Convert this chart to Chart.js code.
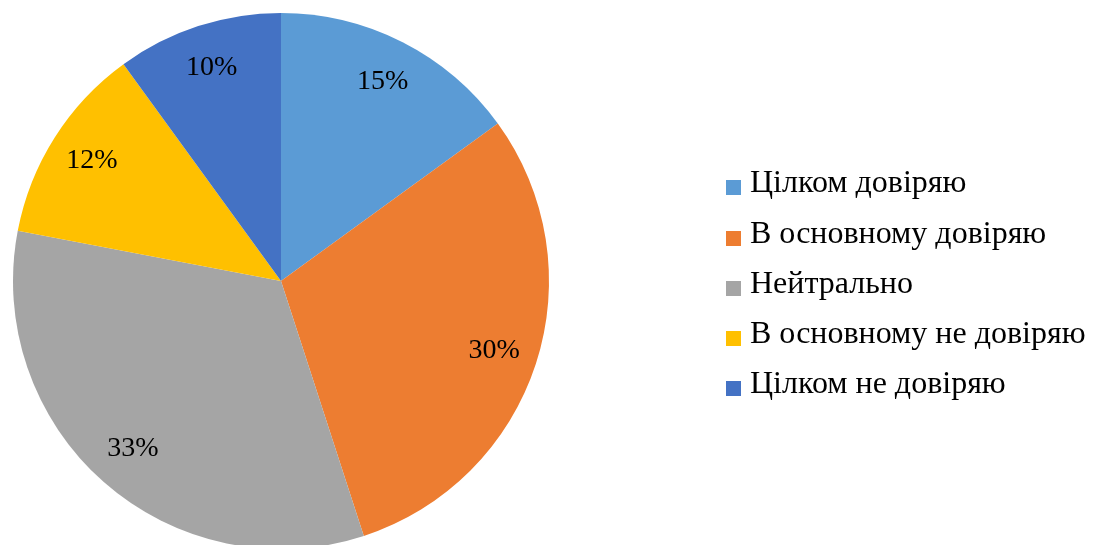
<!DOCTYPE html>
<html>
<head>
<meta charset="utf-8">
<script src="https://cdn.jsdelivr.net/npm/chart.js@4"></script>
<style>
  html, body { margin: 0; padding: 0; background: #fff; overflow: hidden; }
  #wrap { position: relative; width: 1099px; height: 545px; overflow: hidden; }
  #myCanvas { position: absolute; left: 0; top: 0; }
  .row { position: absolute; left: 726px; height: 36px; line-height: 36px; font: 32px "Liberation Serif", "Times New Roman", serif; color: #000; white-space: nowrap; }
  .row span.box { position: absolute; left: 0; top: 17px; width: 15px; height: 15px; }
  .row span.txt { position: absolute; left: 24px; top: 0; }
</style>
</head>
<body>
<div id="wrap">
  <canvas id="myCanvas" width="1099" height="553"></canvas>
  <div id="legend"></div>
</div>
<script>
'use strict';

const labels = ['Цілком довіряю', 'В основному довіряю', 'Нейтрально', 'В основному не довіряю', 'Цілком не довіряю'];
const values = [15, 30, 33, 12, 10];
const colors = ['#5B9BD5', '#ED7D31', '#A5A5A5', '#FFC000', '#4472C4'];

// percent labels inside the slices
const pctLabels = {
  id: 'pctLabels',
  afterDatasetsDraw(chart) {
    const ctx = chart.ctx;
    const total = values.reduce((a, b) => a + b, 0);
    const arcs = chart.getDatasetMeta(0).data;
    ctx.save();
    ctx.font = '28px "Liberation Serif", "Times New Roman", serif';
    ctx.fillStyle = '#000';
    ctx.textAlign = 'center';
    ctx.textBaseline = 'middle';
    for (let i = 0; i < arcs.length; i++) {
      const p = arcs[i].getProps(['x', 'y', 'startAngle', 'endAngle', 'outerRadius'], true);
      const mid = (p.startAngle + p.endAngle) / 2;
      const dist = p.outerRadius * 0.836;
      const x = p.x + Math.cos(mid) * dist;
      const y = p.y + Math.sin(mid) * dist;
      ctx.fillText(Math.round(values[i] / total * 100) + '%', x, y);
    }
    ctx.restore();
  }
};

function renderLegend() {
  const legend = document.getElementById('legend');
  for (let i = 0; i < labels.length; i++) {
    const row = document.createElement('div');
    row.className = 'row';
    row.style.top = (163.2 + i * 50.3) + 'px';
    const box = document.createElement('span');
    box.className = 'box';
    box.style.background = colors[i];
    const txt = document.createElement('span');
    txt.className = 'txt';
    txt.textContent = labels[i];
    row.appendChild(box);
    row.appendChild(txt);
    legend.appendChild(row);
  }
}

const data = {
  labels: labels,
  datasets: [{
    data: values,
    backgroundColor: colors,
    borderWidth: 0
  }]
};

const config = {
  type: 'pie',
  data: data,
  options: {
    responsive: false,
    animation: false,
    layout: {
      padding: { left: 13, top: 13, right: 550, bottom: 4 }
    },
    plugins: {
      legend: { display: false },
      tooltip: { enabled: false }
    }
  },
  plugins: [pctLabels]
};

const chart = new Chart(document.getElementById('myCanvas'), config);
renderLegend();
</script>
</body>
</html>
